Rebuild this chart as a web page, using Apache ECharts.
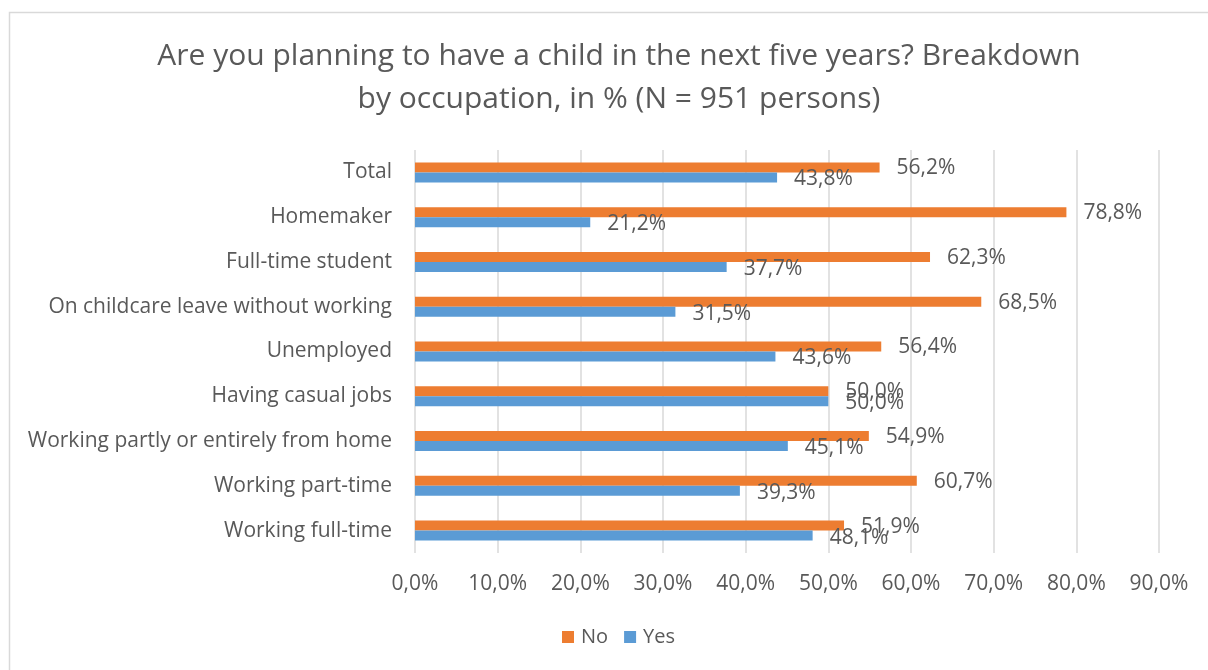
<!DOCTYPE html>
<html>
<head>
<meta charset="utf-8">
<script src="https://cdn.jsdelivr.net/npm/echarts@6/dist/echarts.min.js"></script>
<style>
  html, body { margin: 0; padding: 0; background: #ffffff; }
  #chart { width: 1208px; height: 670px; }
</style>
</head>
<body>
<div id="chart"></div>
<script>
// Occupations, listed bottom to top as they appear on the category axis
const categories = [
  'Working full-time',
  'Working part-time',
  'Working partly or entirely from home',
  'Having casual jobs',
  'Unemployed',
  'On childcare leave without working',
  'Full-time student',
  'Homemaker',
  'Total'
];
const noValues  = [51.9, 60.7, 54.9, 50.0, 56.4, 68.5, 62.3, 78.8, 56.2];
const yesValues = [48.1, 39.3, 45.1, 50.0, 43.6, 31.5, 37.7, 21.2, 43.8];
const seriesNames = ['No', 'Yes'];
const titleText = 'Are you planning to have a child in the next five years? Breakdown\nby occupation, in % (N = 951 persons)';

const FONT = '"Open Sans"';
const TEXT = '#595959';
const fmt = v => v.toFixed(1).replace('.', ',') + '%';

const chart = echarts.init(document.getElementById('chart'), null, { renderer: 'canvas' });

chart.setOption({
  backgroundColor: '#ffffff',
  animation: false,
  textStyle: { fontFamily: FONT, color: TEXT },
  graphic: [{
    type: 'rect',
    shape: { x: 9.5, y: 12.5, width: 1400, height: 900 },
    style: { fill: 'none', stroke: '#d9d9d9', lineWidth: 1.5 },
    silent: true,
    z: -10
  }],
  title: {
    text: titleText,
    left: 614,
    textAlign: 'center',
    top: 30,
    textStyle: {
      fontFamily: FONT,
      fontSize: 30,
      fontWeight: 'normal',
      color: TEXT,
      lineHeight: 43
    }
  },
  legend: {
    data: seriesNames,
    bottom: 18,
    left: 557,
    itemWidth: 12,
    itemHeight: 12,
    itemGap: 16,
    icon: 'rect',
    textStyle: { fontFamily: FONT, fontSize: 20, color: TEXT, padding: [0, 0, 0, 2] }
  },
  grid: {
    left: 415,
    right: 49,
    top: 150,
    bottom: 117,
    containLabel: false
  },
  xAxis: {
    type: 'value',
    min: 0,
    max: 90,
    interval: 10,
    axisLine: { show: false },
    axisTick: { show: false },
    splitLine: { show: true, lineStyle: { color: '#d9d9d9', width: 1.5 } },
    axisLabel: {
      margin: 21,
      fontFamily: FONT,
      fontSize: 21,
      color: TEXT,
      formatter: v => fmt(v)
    }
  },
  yAxis: {
    type: 'category',
    data: categories,
    axisLine: { show: false },
    axisTick: { show: false },
    axisLabel: {
      margin: 23,
      fontFamily: FONT,
      fontSize: 21,
      color: TEXT
    }
  },
  series: [
    {
      name: seriesNames[0],
      type: 'bar',
      data: noValues,
      barWidth: 10,
      barGap: 0,
      itemStyle: { color: '#ed7d31' },
      label: {
        show: true,
        position: 'right',
        distance: 17,
        offset: [0, 1],
        fontFamily: FONT,
        fontSize: 21,
        color: TEXT,
        formatter: p => fmt(p.value)
      }
    },
    {
      name: seriesNames[1],
      type: 'bar',
      data: yesValues,
      barWidth: 10,
      barGap: 0,
      itemStyle: { color: '#5b9bd5' },
      label: {
        show: true,
        position: 'right',
        distance: 17,
        offset: [0, 2],
        fontFamily: FONT,
        fontSize: 21,
        color: TEXT,
        formatter: p => fmt(p.value)
      }
    }
  ]
});
</script>
</body>
</html>
